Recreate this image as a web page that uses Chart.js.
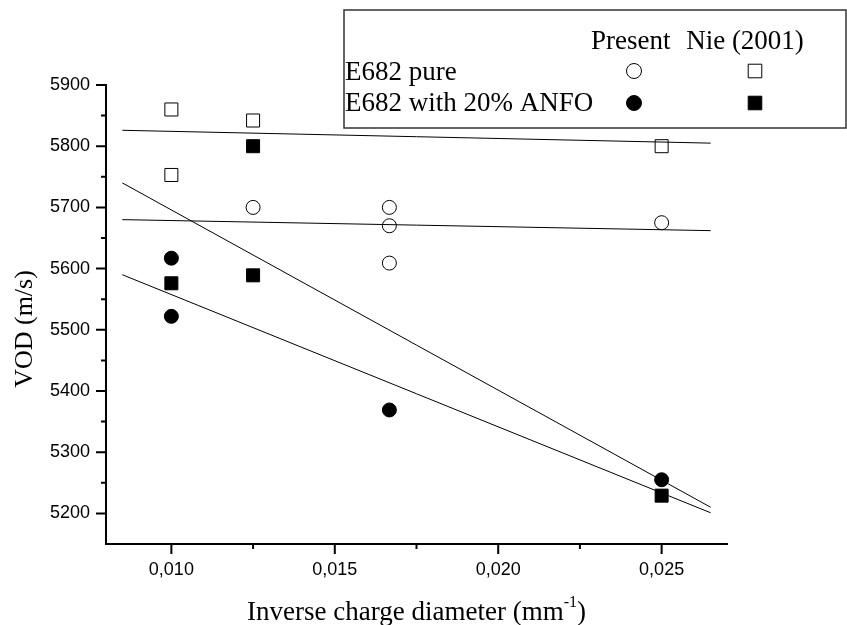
<!DOCTYPE html>
<html>
<head>
<meta charset="utf-8">
<script src="https://cdn.jsdelivr.net/npm/chart.js@4.4.1/dist/chart.umd.min.js"></script>
<style>
  html, body { margin: 0; padding: 0; background: #fff; }
</style>
</head>
<body>
<canvas id="vodChart" width="847" height="625"></canvas>
<script>
(() => {
    'use strict';

    // Achsen
    const xTicks = [0.010, 0.015, 0.020, 0.025];
    const xMinor = [0.0125, 0.0175, 0.0225];
    const yTicks = [5200, 5300, 5400, 5500, 5600, 5700, 5800, 5900];
    const yMinor = [5250, 5350, 5450, 5550, 5650, 5750, 5850];

    // Messwerte: present work
    const pureX = [0.0125, 0.01667, 0.01667, 0.01667, 0.025];
    const pureVod = [5700, 5700, 5670, 5609, 5675];
    const anfoX = [0.010, 0.010, 0.01667, 0.025];
    const anfoVod = [5617, 5522, 5369, 5255];

    // Messwerte: Nie (2001)
    const niePureX = [0.010, 0.010, 0.0125, 0.025];
    const niePureVod = [5860, 5753, 5842, 5800];
    const nieAnfoX = [0.010, 0.0125, 0.0125, 0.025];
    const nieAnfoVod = [5576, 5589, 5800, 5229];

    // Ausgleichsgeraden (Endpunkte)
    const fitX = [0.0085, 0.0265];
    const fitNiePure = [5826, 5805];
    const fitPure = [5680, 5662];
    const fitSteep = [5740, 5210];
    const fitAnfo = [5590, 5201];

    const toPoints = (xs, ys) => xs.map((x, i) => ({ x: x, y: ys[i] }));

    const serif = "'Liberation Serif', 'Times New Roman', serif";
    const sans = "'Liberation Sans', Arial, sans-serif";

    function markerSet(label, xs, ys, style, filled) {
        return {
            label: label,
            data: toPoints(xs, ys),
            showLine: false,
            pointStyle: style,
            pointRadius: style === 'rect' ? 9.2 : 7,
            pointBorderWidth: 1,
            pointBorderColor: '#000',
            pointBackgroundColor: filled ? '#000' : '#fff'
        };
    }

    function fitSet(ys) {
        return {
            data: toPoints(fitX, ys),
            showLine: true,
            borderColor: '#000',
            borderWidth: 1,
            pointRadius: 0,
            fill: false
        };
    }

    // Zusatzelemente: Teilstriche, Achsentitel, Legende
    const decorations = {
        id: 'decorations',
        afterDraw(chart) {
            const { ctx, scales: { x, y } } = chart;
            const axisY = y.bottom;
            const axisX = x.left;
            ctx.save();
            ctx.strokeStyle = '#000';
            ctx.lineWidth = 2;
            ctx.beginPath();
            xTicks.forEach(v => { const px = x.getPixelForValue(v); ctx.moveTo(px, axisY); ctx.lineTo(px, axisY + 10); });
            xMinor.forEach(v => { const px = x.getPixelForValue(v); ctx.moveTo(px, axisY); ctx.lineTo(px, axisY + 5); });
            yTicks.forEach(v => { const py = y.getPixelForValue(v); ctx.moveTo(axisX, py); ctx.lineTo(axisX - 10, py); });
            yMinor.forEach(v => { const py = y.getPixelForValue(v); ctx.moveTo(axisX, py); ctx.lineTo(axisX - 5, py); });
            ctx.stroke();

            // Achsentitel
            ctx.fillStyle = '#000';
            ctx.font = '27px ' + serif;
            ctx.textBaseline = 'alphabetic';
            const main = 'Inverse charge diameter (mm';
            const sup = '-1';
            const close = ')';
            const wMain = ctx.measureText(main).width;
            const wClose = ctx.measureText(close).width;
            ctx.font = '16px ' + serif;
            const wSup = ctx.measureText(sup).width;
            const total = wMain + wSup + wClose;
            let tx = (x.left + x.right) / 2 - total / 2;
            ctx.font = '27px ' + serif;
            ctx.textAlign = 'left';
            ctx.fillText(main, tx, 620);
            ctx.font = '16px ' + serif;
            ctx.fillText(sup, tx + wMain, 607);
            ctx.font = '27px ' + serif;
            ctx.fillText(close, tx + wMain + wSup, 620);

            ctx.save();
            ctx.translate(25, 329);
            ctx.rotate(-Math.PI / 2);
            ctx.textAlign = 'center';
            ctx.textBaseline = 'middle';
            ctx.font = '26px ' + serif;
            ctx.fillText('VOD (m/s)', 0, 0);
            ctx.restore();

            // Legende
            ctx.fillStyle = '#fff';
            ctx.fillRect(344, 10, 502, 118);
            ctx.strokeStyle = '#333';
            ctx.lineWidth = 1.5;
            ctx.strokeRect(344, 10, 502, 118);

            ctx.fillStyle = '#000';
            ctx.font = '27px ' + serif;
            ctx.textAlign = 'left';
            ctx.textBaseline = 'alphabetic';
            ctx.fillText('Present', 591, 49);
            ctx.textAlign = 'center';
            ctx.fillText('Nie (2001)', 745, 49);
            ctx.textAlign = 'left';
            ctx.fillText('E682 pure', 345, 80);
            ctx.fillText('E682 with 20% ANFO', 345, 111);

            const rows = [
                { y: 71, filled: false },
                { y: 103, filled: true }
            ];
            rows.forEach(r => {
                ctx.fillStyle = r.filled ? '#000' : '#fff';
                ctx.strokeStyle = '#000';
                ctx.lineWidth = 1;
                Chart.helpers.drawPoint(ctx, { pointStyle: 'circle', radius: 7.5, rotation: 0, borderWidth: 1 }, 634, r.y);
                ctx.fillStyle = r.filled ? '#000' : '#fff';
                Chart.helpers.drawPoint(ctx, { pointStyle: 'rect', radius: 9.6, rotation: 0, borderWidth: 1 }, 755, r.y);
            });
            ctx.restore();
        }
    };

    new Chart(document.getElementById('vodChart'), {
        type: 'scatter',
        data: {
            datasets: [
                fitSet(fitNiePure),
                fitSet(fitPure),
                fitSet(fitSteep),
                fitSet(fitAnfo),
                markerSet('E682 pure (Present)', pureX, pureVod, 'circle', false),
                markerSet('E682 with 20% ANFO (Present)', anfoX, anfoVod, 'circle', true),
                markerSet('E682 pure (Nie 2001)', niePureX, niePureVod, 'rect', false),
                markerSet('E682 with 20% ANFO (Nie 2001)', nieAnfoX, nieAnfoVod, 'rect', true)
            ]
        },
        options: {
            responsive: false,
            animation: false,
            devicePixelRatio: 1,
            layout: {
                padding: { top: 85, right: 120, left: 0, bottom: 0 }
            },
            plugins: {
                legend: { display: false },
                tooltip: { enabled: false }
            },
            scales: {
                x: {
                    type: 'linear',
                    min: 0.008,
                    max: 0.027,
                    grid: { display: false, drawTicks: false },
                    border: { display: true, color: '#000', width: 2 },
                    ticks: {
                        color: '#000',
                        padding: 15,
                        font: { family: sans, size: 18 },
                        callback: v => v.toFixed(3).replace('.', ',')
                    },
                    afterBuildTicks: scale => { scale.ticks = xTicks.map(v => ({ value: v })); },
                    afterFit: scale => { scale.height = 81; }
                },
                y: {
                    type: 'linear',
                    min: 5150,
                    max: 5900,
                    grid: { display: false, drawTicks: false },
                    border: { display: true, color: '#000', width: 2 },
                    ticks: {
                        color: '#000',
                        padding: 16,
                        font: { family: sans, size: 18 },
                        callback: v => String(v)
                    },
                    afterBuildTicks: scale => { scale.ticks = yTicks.map(v => ({ value: v })); },
                    afterFit: scale => { scale.width = 106; }
                }
            }
        },
        plugins: [decorations]
    });
})();
</script>
</body>
</html>
